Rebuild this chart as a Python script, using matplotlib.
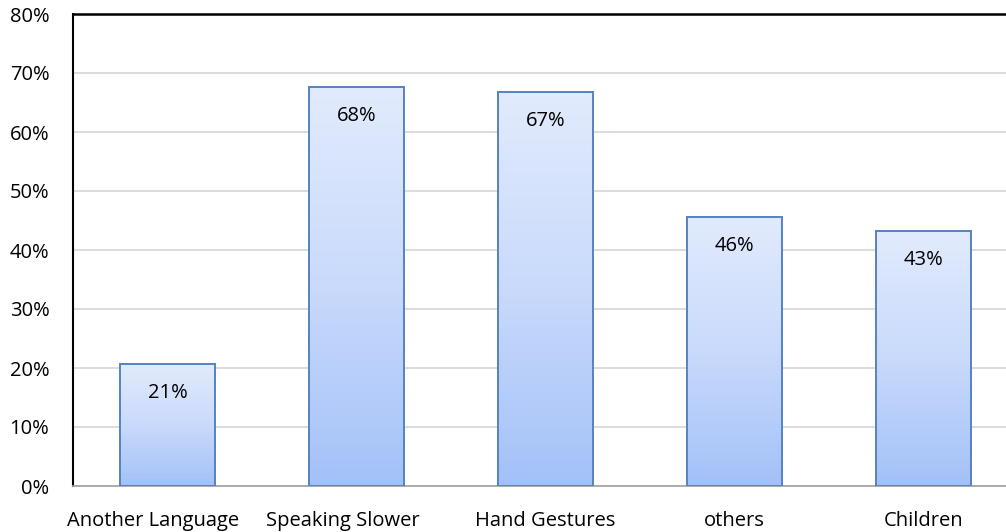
import numpy as np
import matplotlib.pyplot as plt
from matplotlib.colors import LinearSegmentedColormap
from matplotlib.transforms import ScaledTranslation

categories = ["Another Language", "Speaking Slower", "Hand Gestures", "others", "Children"]
values = [0.207, 0.676, 0.668, 0.456, 0.433]
labels = ["21%", "68%", "67%", "46%", "43%"]
yticks = [0.0, 0.1, 0.2, 0.3, 0.4, 0.5, 0.6, 0.7, 0.8]

plt.rcParams["font.family"] = ["Open Sans", "DejaVu Sans"]
fs = 14.5

fig = plt.figure(figsize=(10.06, 5.32), dpi=100)
ax = fig.add_axes([73 / 1006, 46 / 532, 945 / 1006, 472 / 532])

x = np.arange(len(categories))
bars = ax.bar(x, values, width=0.5, color="none", edgecolor="#5383c0", linewidth=1.4, zorder=3)

# gradient fill, light at top, deeper blue at bottom
cmap = LinearSegmentedColormap.from_list("bluegrad", ["#a3c1f8", "#c9dafb", "#e2ebfd"])
grad = np.linspace(0, 1, 256).reshape(-1, 1)
for b in bars:
    x0, w, h = b.get_x(), b.get_width(), b.get_height()
    im = ax.imshow(grad, cmap=cmap, origin="lower", aspect="auto",
                   extent=[x0, x0 + w, 0, h], zorder=2)
    im.set_clip_path(b)

for xi, v, lab in zip(x, values, labels):
    ax.annotate(lab, (xi, v), xytext=(0, -21), textcoords="offset points",
                ha="center", va="center", fontsize=fs, color="#000000", zorder=4)

ax.set_xlim(-0.5, len(categories) - 0.5)
ax.set_ylim(0, 0.8)
ax.set_yticks(yticks)
ax.set_yticklabels([f"{int(round(t * 100))}%" for t in yticks])
ax.set_xticks(x)
ax.set_xticklabels(categories)
ax.tick_params(axis="both", length=0, labelsize=fs)
ax.tick_params(axis="y", pad=17)
ax.tick_params(axis="x", pad=18)

# the first two category labels sit a little left of their bars
shift = ScaledTranslation(-0.14, 0, fig.dpi_scale_trans)
for t in ax.get_xticklabels()[:2]:
    t.set_transform(t.get_transform() + shift)

ax.yaxis.grid(True, color="#d9d9d9", linewidth=1.3, zorder=0)
ax.set_axisbelow(True)

ax.spines["left"].set_color("black")
ax.spines["left"].set_linewidth(1.5)
ax.spines["top"].set_color("black")
ax.spines["top"].set_linewidth(1.8)
ax.spines["bottom"].set_color("#a6a6a6")
ax.spines["bottom"].set_linewidth(1.3)
ax.spines["right"].set_visible(False)

fig.savefig("out.png", dpi=100)
